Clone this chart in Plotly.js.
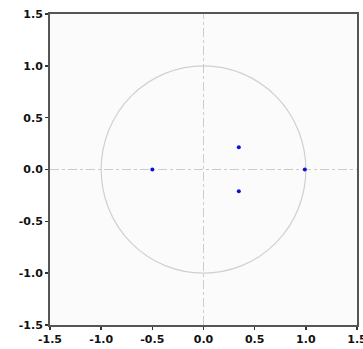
<!DOCTYPE html>
<html><head><meta charset="utf-8">
<script src="https://cdn.plot.ly/plotly-3.0.1.min.js"></script>
<style>body{margin:0;background:#fff}</style>
</head><body><div id="chart" style="width:363px;height:349px"></div>
<script>
const rootRe = [-0.5, 0.345, 0.345, 0.99];
const rootIm = [0.0, 0.215, -0.21, 0.0];
const tickVals = [-1.5, -1.0, -0.5, 0.0, 0.5, 1.0, 1.5];
const tickText = ['-1.5', '-1.0', '-0.5', '0.0', '0.5', '1.0', '1.5'];

const trace = {
  x: rootRe, y: rootIm, type: 'scatter', mode: 'markers',
  marker: {color: '#1010d0', size: 4},
  hoverinfo: 'none'
};
const ax = {
  range: [-1.5, 1.5], tickvals: tickVals, ticktext: tickText,
  showgrid: false, zeroline: false, ticks: 'outside', ticklen: 3, tickwidth: 1.5,
  tickcolor: '#333', showline: true, linecolor: '#555', linewidth: 2, mirror: true,
  ticklabeloverflow: 'allow',
  tickfont: {family: 'DejaVu Sans, Arial', size: 11, color: '#111', weight: 'bold'}
};
const layout = {
  width: 363, height: 349,
  margin: {l: 50, r: 6, t: 14, b: 24},
  paper_bgcolor: '#ffffff', plot_bgcolor: '#fbfbfb',
  showlegend: false,
  xaxis: Object.assign({}, ax),
  yaxis: Object.assign({}, ax),
  shapes: [
    {type: 'circle', xref: 'x', yref: 'y', x0: -1, x1: 1, y0: -1, y1: 1,
     line: {color: '#d0d0d0', width: 1.2}, layer: 'below'},
    {type: 'line', xref: 'x', yref: 'y', x0: -1.5, x1: 1.5, y0: 0, y1: 0,
     line: {color: '#cccccc', width: 1, dash: 'dashdot'}, layer: 'below'},
    {type: 'line', xref: 'x', yref: 'y', x0: 0, x1: 0, y0: -1.5, y1: 1.5,
     line: {color: '#cccccc', width: 1, dash: 'dashdot'}, layer: 'below'}
  ]
};
Plotly.newPlot('chart', [trace], layout, {displayModeBar: false, staticPlot: true});
</script></body></html>
